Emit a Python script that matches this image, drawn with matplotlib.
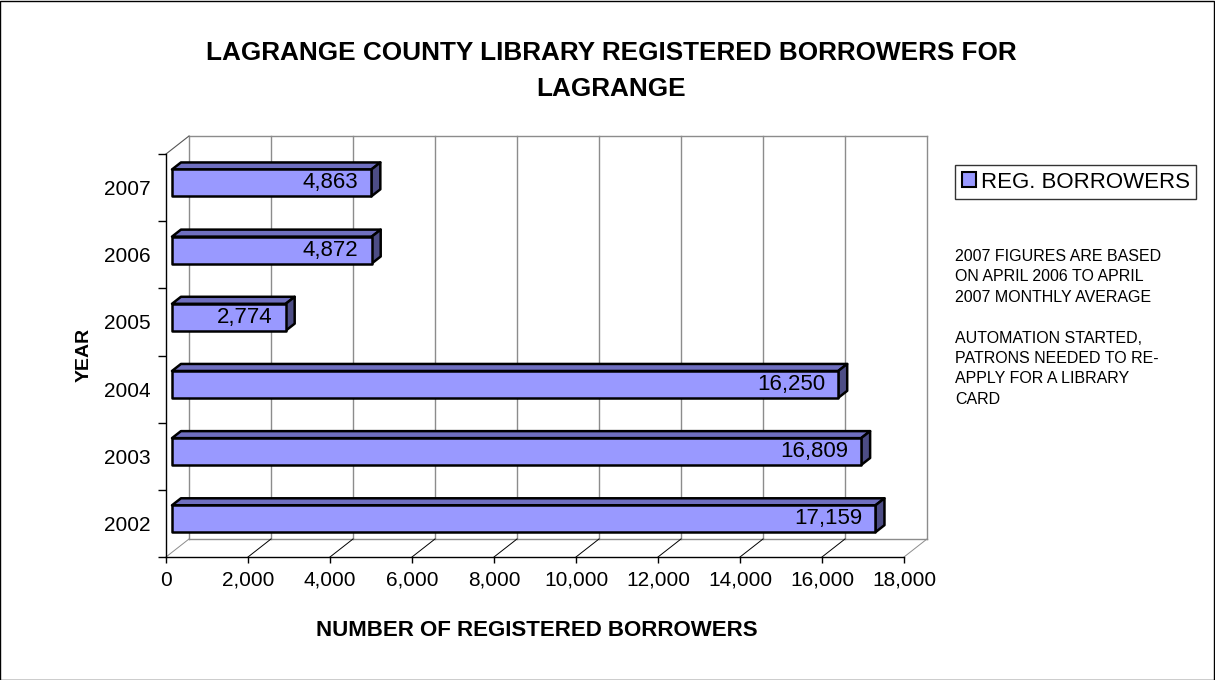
import matplotlib
matplotlib.use('Agg')
import matplotlib.pyplot as plt
from matplotlib.patches import Polygon, Rectangle, Patch

plt.rcParams['font.family'] = ['Liberation Sans', 'DejaVu Sans']

years = ['2002', '2003', '2004', '2005', '2006', '2007']
borrowers = [17159, 16809, 16250, 2774, 4872, 4863]
x_ticks = list(range(0, 18001, 2000))
series_name = 'REG. BORROWERS'
title = 'LAGRANGE COUNTY LIBRARY REGISTERED BORROWERS FOR\nLAGRANGE'
x_label = 'NUMBER OF REGISTERED BORROWERS'
y_label = 'YEAR'
note = ('2007 FIGURES ARE BASED\nON APRIL 2006 TO APRIL\n2007 MONTHLY AVERAGE\n\n'
        'AUTOMATION STARTED,\nPATRONS NEEDED TO RE-\nAPPLY FOR A LIBRARY\nCARD')

FACE = '#9999FF'
TOP = '#6F6FC0'
SIDE = '#4D4D85'
GRID = '#8C8C8C'

W, H = 1215, 680
fig = plt.figure(figsize=(W / 100, H / 100), dpi=100)
ax = fig.add_axes([166 / W, 1 - 557 / H, 738 / W, 403 / H])
xmax = x_ticks[-1]
ax.set_xlim(0, xmax)
ax.set_ylim(0, len(years))

# depth of the 3d box in data units (23 px right, 18 px up)
DX = 23 / 738 * xmax
DY = 18 / (403 / len(years))
n = len(years)

# back wall gridlines and frame
for v in x_ticks:
    ax.plot([v + DX, v + DX], [DY, n + DY], color=GRID, lw=1, clip_on=False, zorder=1)
ax.plot([DX, xmax + DX], [n + DY, n + DY], color=GRID, lw=1, clip_on=False, zorder=1)
ax.plot([DX, xmax + DX], [DY, DY], color=GRID, lw=1, clip_on=False, zorder=1)
ax.plot([0, DX], [n, n + DY], color='#555555', lw=0.8, clip_on=False, zorder=1)
# floor
for v in x_ticks:
    c = GRID if v in (0, xmax) else 'black'
    ax.plot([v, v + DX], [0, DY], color=c, lw=0.7, clip_on=False, zorder=1)

# 3d bars
z0, z1 = 0.26, 0.65
bh = 0.4
for i, v in enumerate(borrowers):
    y0 = i + 0.5 - bh / 2
    y1 = i + 0.5 + bh / 2
    fx, fy = z0 * DX, z0 * DY
    bx, by = z1 * DX, z1 * DY
    top = [(fx, y1 + fy), (v + fx, y1 + fy), (v + bx, y1 + by), (bx, y1 + by)]
    side = [(v + fx, y0 + fy), (v + bx, y0 + by), (v + bx, y1 + by), (v + fx, y1 + fy)]
    front = [(fx, y0 + fy), (v + fx, y0 + fy), (v + fx, y1 + fy), (fx, y1 + fy)]
    for pts, col in ((top, TOP), (side, SIDE), (front, FACE)):
        ax.add_patch(Polygon(pts, closed=True, facecolor=col, edgecolor='black',
                             lw=1.8, joinstyle='round', clip_on=False, zorder=3))
    ax.text(v + fx - 0.018 * xmax, i + 0.5 + fy, f'{v:,}', ha='right', va='center',
            fontsize=16, zorder=4)

# axes
for s in ('top', 'right'):
    ax.spines[s].set_visible(False)
ax.spines['left'].set_linewidth(1)
ax.spines['bottom'].set_linewidth(1)
ax.set_xticks(x_ticks)
ax.set_xticklabels([f'{t:,}' for t in x_ticks], fontsize=15)
ax.set_yticks(range(n + 1))
ax.set_yticklabels([])
ax.set_yticks([i + 0.5 for i in range(n)], minor=True)
ax.set_yticklabels(years, minor=True, fontsize=15)
ax.tick_params(axis='x', length=4, width=1, pad=6)
ax.tick_params(axis='y', which='major', length=6, width=1)
ax.tick_params(axis='y', which='minor', length=0, pad=11)
ax.set_facecolor('none')

fig.text(611 / W, 1 - 71 / H, title, ha='center', va='center', fontsize=18.8,
         fontweight='bold', linespacing=1.62)
fig.text(537 / W, 1 - 630 / H, x_label, ha='center', va='center', fontsize=16,
         fontweight='bold')
fig.text(84 / W, 1 - 355 / H, y_label, ha='center', va='center', fontsize=14,
         fontweight='bold', rotation=90)

leg = fig.legend(handles=[Patch(facecolor=FACE, edgecolor='black', lw=1.5)],
                 labels=[series_name], loc='upper left',
                 bbox_to_anchor=(955 / W, 1 - 165 / H), borderaxespad=0,
                 fontsize=16, fancybox=False, handlelength=0.65, handleheight=0.65,
                 handletextpad=0.2, borderpad=0.3)
leg.get_frame().set_edgecolor('black')
leg.get_frame().set_linewidth(1)

fig.text(955 / W, 1 - 249 / H, note, ha='left', va='top', fontsize=11.5,
         linespacing=1.45)

fig.add_artist(Rectangle((0, 0), 1 - 1 / W, 1 - 1 / H, transform=fig.transFigure,
                         fill=False, edgecolor='black', lw=1))

fig.savefig('out.png', dpi=100)
